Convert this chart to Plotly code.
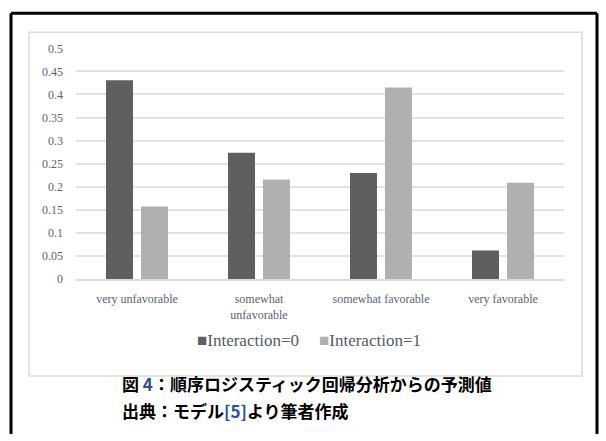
import plotly.graph_objects as go

categories = ["very unfavorable", "somewhat<br>unfavorable", "somewhat favorable", "very favorable"]
interaction0 = [0.431, 0.274, 0.230, 0.062]
interaction1 = [0.157, 0.216, 0.415, 0.209]
series_names = ["Interaction=0", "Interaction=1"]
series_colors = ["#5f5f5f", "#b0b0b0"]
y_ticks = [0, 0.05, 0.1, 0.15, 0.2, 0.25, 0.3, 0.35, 0.4, 0.45, 0.5]
y_tick_labels = ["0", "0.05", "0.1", "0.15", "0.2", "0.25", "0.3", "0.35", "0.4", "0.45", "0.5"]
caption1 = '<b>図 <span style="color:#2b4f9a">4</span>：順序ロジスティック回帰分析からの予測値</b>'
caption2 = '<b>出典：モデル<span style="color:#2b4f9a">[5]</span>より筆者作成</b>'

W, H = 606, 441
def px(x):
    return x / W
def py(y):
    return 1 - y / H

fig = go.Figure()
for vals, name, col in zip([interaction0, interaction1], series_names, series_colors):
    fig.add_trace(go.Bar(x=categories, y=vals, name=name,
                         marker=dict(color=col, line=dict(width=0))))

tick_font = dict(family="Liberation Serif", size=12, color="#5c6275")

fig.update_layout(
    width=W, height=H, autosize=False,
    margin=dict(l=0, r=0, t=0, b=0),
    paper_bgcolor="white", plot_bgcolor="white",
    barmode="group", bargap=0.426, bargroupgap=0.229,
    xaxis=dict(domain=[px(76), px(564)], tickfont=tick_font, showgrid=False,
               showline=True, linecolor="#d9d9d9", linewidth=1.5,
               ticks="", ticklabelstandoff=8),
    yaxis=dict(domain=[py(281), py(42.7)], range=[0, 0.5], tickvals=y_ticks,
               ticktext=y_tick_labels, tickfont=tick_font, showgrid=True,
               gridcolor="#e2e2e2", gridwidth=1.5, zeroline=False,
               showline=False, ticks="", ticklabelstandoff=12),
    showlegend=False,
    font=dict(family="Liberation Serif"),
)

shapes = [
    dict(type="rect", xref="paper", yref="paper", x0=px(29), x1=px(582), y0=py(381), y1=py(26),
         line=dict(color="#dcdcdc", width=1.5), layer="below"),
    dict(type="line", xref="paper", yref="paper", x0=px(11), x1=px(11), y0=0, y1=py(6.5),
         line=dict(color="black", width=3)),
    dict(type="line", xref="paper", yref="paper", x0=px(11), x1=px(597), y0=py(6.5), y1=py(6.5),
         line=dict(color="black", width=3)),
    dict(type="line", xref="paper", yref="paper", x0=px(597), x1=px(597), y0=0, y1=py(6.5),
         line=dict(color="black", width=3)),
]
fig.update_layout(shapes=shapes)

# legend entries (built from series names / colours)
legend_font = dict(family="Liberation Serif", size=17, color="#55596a")
for name, col, lx in zip(series_names, series_colors, [195, 317]):
    fig.add_annotation(text=f'<span style="color:{col}">■</span>{name}', xref="paper", yref="paper",
                       x=px(lx), y=py(344), xanchor="left", yanchor="middle",
                       showarrow=False, font=legend_font)

cap_font = dict(family="Noto Sans CJK JP", size=17, color="black")
fig.add_annotation(text=caption1, xref="paper", yref="paper", x=px(120), y=py(389),
                   xanchor="left", yanchor="middle", showarrow=False, font=cap_font)
fig.add_annotation(text=caption2, xref="paper", yref="paper", x=px(120), y=py(417),
                   xanchor="left", yanchor="middle", showarrow=False, font=cap_font)

fig.write_html("out.html")
